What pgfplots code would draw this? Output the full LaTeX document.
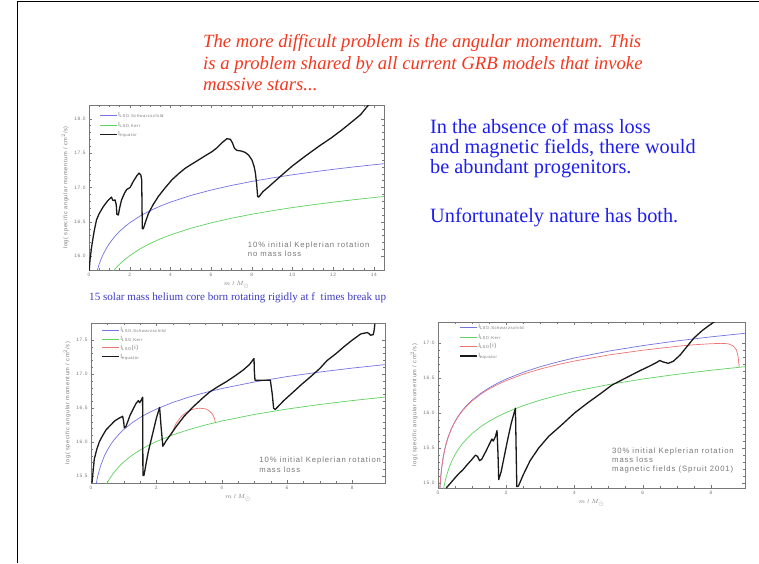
\documentclass[border=0pt]{standalone}
\usepackage{pgfplots}
\pgfplotsset{compat=1.18}
\usepackage{fontspec}
\setmainfont{Liberation Serif}
\newfontfamily\plotfont[LetterSpace=12]{Liberation Sans}

\definecolor{slidered}{RGB}{245,55,30}
\definecolor{slideblue}{RGB}{30,30,240}
\definecolor{capblue}{RGB}{60,60,200}
\definecolor{lsoblue}{RGB}{115,115,230}
\definecolor{kerrgreen}{RGB}{95,210,95}
\definecolor{lsored}{RGB}{240,115,115}
\definecolor{idlgray}{RGB}{120,120,120}

\newcommand{\tickfont}{\plotfont\fontsize{4.8}{5.5}\selectfont}
\newcommand{\labfont}{\plotfont\fontsize{5.6}{6.5}\selectfont}
\newcommand{\legfont}{\plotfont\fontsize{5.9}{6.5}\selectfont}
\newcommand{\notefont}{\plotfont\fontsize{7.7}{9.2}\selectfont}

\pgfplotsset{
  idl/.style={
    scale only axis,
    axis line style={idlgray, line width=0.4pt},
    tick style={idlgray, line width=0.3pt},
    major tick length=3pt, minor tick length=1.6pt,
    tick label style={font=\tickfont, text=idlgray},
    /pgf/number format/assume math mode=true,
    yticklabel style={/pgf/number format/.cd, fixed, fixed zerofill, precision=1},
    xticklabel style={/pgf/number format/.cd, fixed, precision=0},
    minor y tick num=4, minor x tick num=3,
    ylabel={log( specific angular momentum / cm$^2$/s)},
    xlabel={$m$ / $M_\odot$},
    label style={font=\labfont, text=idlgray},
    ylabel style={yshift=-1pt},
    xlabel style={yshift=2pt},
    legend style={draw=none, fill=none, font=\legfont, text=idlgray,
      anchor=north west, inner sep=0pt, row sep=2.6pt,
      nodes={inner sep=0.6pt}},
    legend cell align=left,
    legend image code/.code={\draw[##1] (0pt,0pt) -- (17pt,0pt);},
    clip=true,
  },
  lso/.style={lsoblue, line width=0.7pt},
  kerr/.style={kerrgreen, line width=0.7pt},
  lsoi/.style={lsored, line width=0.7pt},
  jeq/.style={black!90, line width=1.3pt, line join=round},
}

\begin{document}
\begin{tikzpicture}
\path[use as bounding box] (0pt,0pt) rectangle (759pt,-563pt);
\fill[white] (0pt,0pt) rectangle (759pt,-563pt);
\draw[line width=1pt] (17pt,-563pt) -- (17pt,-1.5pt) -- (759pt,-1.5pt);

% slide text
\begin{scope}[every node/.style={anchor=base west, inner sep=0pt}]
\node[text=slidered, font=\fontsize{18.7}{21}\selectfont\itshape] at (203pt,-47.5pt) {The more difficult problem is the angular momentum. This};
\node[text=slidered, font=\fontsize{18.7}{21}\selectfont\itshape] at (203pt,-69pt) {is a problem shared by all current GRB models that invoke};
\node[text=slidered, font=\fontsize{18.7}{21}\selectfont\itshape] at (203pt,-90.5pt) {massive stars...};
\node[text=slideblue, font=\fontsize{20.3}{22}\selectfont] at (430pt,-133pt) {In the absence of mass loss};
\node[text=slideblue, font=\fontsize{20.3}{22}\selectfont] at (430pt,-153pt) {and magnetic fields, there would};
\node[text=slideblue, font=\fontsize{20.3}{22}\selectfont] at (430pt,-173pt) {be abundant progenitors.};
\node[text=slideblue, font=\fontsize{20.3}{22}\selectfont] at (430pt,-222pt) {Unfortunately nature has both.};
\node[text=capblue, font=\fontsize{11.1}{12}\selectfont] at (89pt,-300pt) {15 solar mass helium core born rotating rigidly at f\ \ times break up};
\end{scope}

% no mass loss, 10% Keplerian
\begin{axis}[idl, at={(89pt,-270pt)}, anchor=south west,
  width=295pt, height=165pt,
  xmin=0, xmax=14.5, ymin=15.8, ymax=18.2,
  xtick={0,2,...,14}, ytick={16.0,16.5,17.0,17.5,18.0},
  legend style={at={(axis description cs:0.035,0.96)}}]
\addplot[lso] coordinates {(0.3,15.662)(0.35,15.729)(0.4,15.787)(0.5,15.884)(0.6,15.963)(0.7,16.030)(0.85,16.114)(1,16.185)(1.25,16.282)(1.5,16.361)(1.75,16.428)(2,16.486)(2.5,16.583)(3,16.662)(3.5,16.729)(4,16.787)(5,16.884)(6,16.963)(7,17.030)(8,17.088)(9,17.139)(10,17.185)(11,17.226)(12,17.264)(13,17.299)(14,17.331)(14.5,17.346)};
\addlegendentry{l\textsubscript{LSO,Schwarzschild}}
\addplot[kerr] coordinates {(1.1,15.749)(1.2,15.787)(1.3,15.822)(1.5,15.884)(1.75,15.951)(2,16.009)(2.5,16.106)(3,16.185)(3.5,16.252)(4,16.310)(5,16.407)(6,16.486)(7,16.553)(8,16.611)(9,16.662)(10,16.708)(11,16.749)(12,16.787)(13,16.822)(14,16.854)(14.5,16.869)};
\addlegendentry{l\textsubscript{LSO,Kerr}}
\addplot[jeq] coordinates {(0,15.75)(0.05,15.95)(0.13,16.14)(0.25,16.36)(0.37,16.53)(0.5,16.62)(0.7,16.72)(0.9,16.80)(1.03,16.84)(1.1,16.86)(1.18,16.81)(1.28,16.82)(1.34,16.75)(1.37,16.61)(1.44,16.60)(1.52,16.72)(1.6,16.82)(1.75,16.92)(1.85,16.97)(2.02,17.00)(2.18,17.09)(2.35,17.17)(2.46,17.21)(2.55,17.18)(2.59,17.11)(2.62,16.40)(2.67,16.40)(2.8,16.52)(2.92,16.62)(3.15,16.75)(3.41,16.87)(3.7,16.98)(4.07,17.11)(4.4,17.20)(4.73,17.28)(5.05,17.34)(5.38,17.40)(5.7,17.46)(6.04,17.52)(6.3,17.58)(6.53,17.65)(6.78,17.71)(6.95,17.70)(7.05,17.65)(7.15,17.57)(7.27,17.54)(7.5,17.53)(7.68,17.51)(7.85,17.47)(8.01,17.40)(8.12,17.30)(8.18,17.21)(8.24,17.05)(8.29,16.87)(8.34,16.86)(8.55,16.94)(8.83,17.01)(9.4,17.16)(9.98,17.31)(10.6,17.45)(11.3,17.60)(11.9,17.72)(12.44,17.84)(12.9,17.95)(13.35,18.06)(13.68,18.18)(13.8,18.22)};
\addlegendentry{l\textsubscript{equator}}
\node[anchor=north west, inner sep=0pt, font=\notefont, text=idlgray, align=left] at (axis cs:7.8,16.215) {10\% initial Keplerian rotation\\no mass loss};
\end{axis}

% mass loss, 10% Keplerian
\begin{axis}[idl, at={(91pt,-483pt)}, anchor=south west,
  width=294pt, height=160pt,
  xmin=0, xmax=9, ymin=15.4, ymax=17.75,
  xtick={0,2,...,8}, ytick={15.5,16.0,16.5,17.0,17.5},
  legend style={at={(axis description cs:0.036,0.98)}, row sep=2.0pt}]
\addplot[lso] coordinates {(0.15,15.361)(0.2,15.486)(0.25,15.583)(0.3,15.662)(0.4,15.787)(0.5,15.884)(0.6,15.963)(0.7,16.030)(0.85,16.114)(1,16.185)(1.25,16.282)(1.5,16.361)(1.75,16.428)(2,16.486)(2.5,16.583)(3,16.662)(3.5,16.729)(4,16.787)(5,16.884)(6,16.963)(7,17.030)(8,17.088)(9,17.139)};
\addlegendentry{l\textsubscript{LSO,Schwarzschild}}
\addplot[kerr] coordinates {(0.45,15.361)(0.5,15.407)(0.6,15.486)(0.7,15.553)(0.85,15.637)(1,15.708)(1.25,15.805)(1.5,15.884)(1.75,15.951)(2,16.009)(2.5,16.106)(3,16.185)(3.5,16.252)(4,16.310)(5,16.407)(6,16.486)(7,16.553)(8,16.611)(9,16.662)};
\addlegendentry{l\textsubscript{LSO,Kerr}}
\addplot[lsoi] coordinates {(2.46,16.10)(2.5,16.16)(2.6,16.27)(2.75,16.37)(2.92,16.44)(3.1,16.48)(3.3,16.50)(3.5,16.49)(3.62,16.46)(3.72,16.41)(3.78,16.35)(3.81,16.28)};
\addlegendentry{l\textsubscript{LSO}(i)}
\addplot[jeq] coordinates {(0.03,15.40)(0.1,15.75)(0.18,15.90)(0.26,16.01)(0.36,16.10)(0.46,16.18)(0.6,16.25)(0.72,16.31)(0.85,16.35)(0.97,16.38)(1.0,16.30)(1.02,16.21)(1.07,16.23)(1.2,16.40)(1.38,16.57)(1.45,16.61)(1.49,16.58)(1.54,16.62)(1.58,16.66)(1.59,15.51)(1.62,15.51)(1.75,15.85)(1.9,16.15)(2.0,16.35)(2.1,16.51)(2.15,16.2)(2.2,15.94)(2.3,16.02)(2.45,16.12)(2.61,16.23)(2.85,16.38)(3.13,16.52)(3.4,16.64)(3.64,16.74)(3.9,16.82)(4.15,16.89)(4.4,16.97)(4.66,17.06)(4.85,17.14)(4.99,17.23)(5.0,17.05)(5.02,16.91)(5.49,16.91)(5.55,16.70)(5.59,16.50)(5.64,16.48)(5.9,16.61)(6.2,16.74)(6.45,16.85)(6.72,16.96)(7.0,17.08)(7.23,17.20)(7.5,17.30)(7.74,17.40)(8.0,17.50)(8.26,17.59)(8.46,17.61)(8.52,17.59)(8.56,17.57)(8.64,17.58)(8.67,17.65)(8.69,17.74)};
\addlegendentry{l\textsubscript{equator}}
\node[anchor=north west, inner sep=0pt, font=\notefont, text=idlgray, align=left] at (axis cs:5.15,15.78) {10\% initial Keplerian rotation\\mass loss};
\end{axis}

% mass loss and magnetic fields, 30% Keplerian
\begin{axis}[idl, at={(438pt,-488pt)}, anchor=south west,
  width=307pt, height=166pt,
  xmin=0, xmax=9, ymin=14.93, ymax=17.3,
  xtick={0,2,...,8}, ytick={15.0,15.5,16.0,16.5,17.0},
  legend style={at={(axis description cs:0.07,0.99)}, row sep=2.6pt}]
\addplot[lso] coordinates {(0.04,14.787)(0.05,14.884)(0.06,14.963)(0.08,15.088)(0.1,15.185)(0.13,15.299)(0.16,15.389)(0.2,15.486)(0.25,15.583)(0.3,15.662)(0.4,15.787)(0.5,15.884)(0.6,15.963)(0.7,16.030)(0.85,16.114)(1,16.185)(1.25,16.282)(1.5,16.361)(1.75,16.428)(2,16.486)(2.5,16.583)(3,16.662)(3.5,16.729)(4,16.787)(5,16.884)(6,16.963)(7,17.030)(8,17.088)(9,17.139)};
\addlegendentry{l\textsubscript{LSO,Schwarzschild}}
\addplot[kerr] coordinates {(0.15,14.884)(0.18,14.963)(0.22,15.050)(0.27,15.139)(0.33,15.227)(0.4,15.310)(0.5,15.407)(0.6,15.486)(0.7,15.553)(0.85,15.637)(1,15.708)(1.25,15.805)(1.5,15.884)(1.75,15.951)(2,16.009)(2.5,16.106)(3,16.185)(3.5,16.252)(4,16.310)(5,16.407)(6,16.486)(7,16.553)(8,16.611)(9,16.662)};
\addlegendentry{l\textsubscript{LSO,Kerr}}
\addplot[lsoi] coordinates {(0.04,14.787)(0.05,14.883)(0.06,14.962)(0.08,15.087)(0.1,15.184)(0.13,15.298)(0.16,15.387)(0.2,15.484)(0.25,15.580)(0.3,15.659)(0.4,15.783)(0.5,15.878)(0.6,15.956)(0.7,16.022)(0.85,16.105)(1,16.174)(1.25,16.268)(1.5,16.345)(1.75,16.409)(2,16.464)(2.5,16.556)(3,16.629)(3.5,16.691)(4,16.743)(5,16.829)(6,16.897)(7,16.953)(7.5,16.975)(8,16.99)(8.3,16.995)(8.5,16.99)(8.65,16.96)(8.75,16.90)(8.8,16.80)(8.82,16.70)(8.83,16.66)};
\addlegendentry{l\textsubscript{LSO}(i)}
\addplot[jeq] coordinates {(0.24,14.93)(0.35,14.99)(0.49,15.07)(0.6,15.13)(0.73,15.19)(0.85,15.26)(0.98,15.33)(1.1,15.40)(1.16,15.38)(1.22,15.32)(1.28,15.34)(1.4,15.45)(1.5,15.55)(1.58,15.63)(1.62,15.60)(1.68,15.66)(1.73,15.75)(1.76,15.40)(1.78,15.05)(1.85,15.16)(1.95,15.40)(2.05,15.64)(2.15,15.86)(2.27,16.07)(2.29,15.5)(2.31,14.95)(2.36,14.96)(2.5,15.12)(2.7,15.32)(2.95,15.50)(3.25,15.67)(3.6,15.82)(4.0,16.00)(4.4,16.15)(4.8,16.29)(5.1,16.40)(5.5,16.50)(5.9,16.60)(6.2,16.67)(6.4,16.72)(6.5,16.75)(6.6,16.73)(6.75,16.71)(6.9,16.74)(7.1,16.83)(7.3,16.95)(7.5,17.07)(7.75,17.18)(8.0,17.27)(8.15,17.32)};
\addlegendentry{l\textsubscript{equator}}
\node[anchor=north west, inner sep=0pt, font=\notefont, text=idlgray, align=left] at (axis cs:5.1,15.51) {30\% initial Keplerian rotation\\mass loss\\magnetic fields (Spruit 2001)};
\end{axis}
\end{tikzpicture}
\end{document}
